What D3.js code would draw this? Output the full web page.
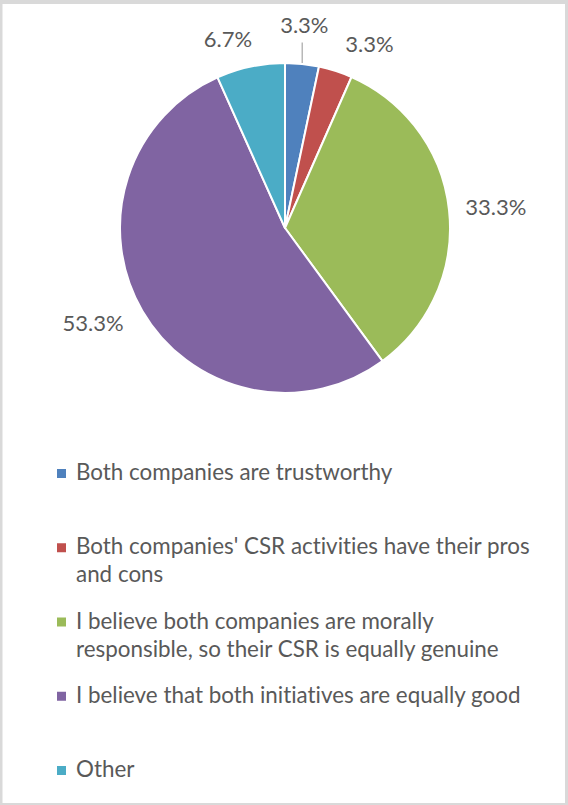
<!DOCTYPE html>
<html>
<head>
<meta charset="utf-8">
<script src="https://cdn.jsdelivr.net/npm/d3@7"></script>
<style>
  html, body { margin: 0; padding: 0; background: #fff; }
  svg { display: block; }
  text { font-variant-ligatures: none; font-feature-settings: "liga" 0, "clig" 0; }
</style>
</head>
<body>
<svg id="chart" width="568" height="805"></svg>
<script>
// Survey responses (share of respondents, %)
const categories = [
  "Both companies are trustworthy",
  "Both companies' CSR activities have their pros and cons",
  "I believe both companies are morally responsible, so their CSR is equally genuine",
  "I believe that both initiatives are equally good",
  "Other"
];
const legendLines = [
  ["Both companies are trustworthy"],
  ["Both companies' CSR activities have their pros", "and cons"],
  ["I believe both companies are morally", "responsible, so their CSR is equally genuine"],
  ["I believe that both initiatives are equally good"],
  ["Other"]
];
const values = [3.3, 3.3, 33.3, 53.3, 6.7];
const colors = ["#4F81BD", "#C0504D", "#9BBB59", "#8064A2", "#4BACC6"];

const W = 568, H = 805;
const font = "Lato, 'Open Sans', 'DejaVu Sans', sans-serif";
const textColor = "#595959";
const legendFontSize = 22.4;

const svg = d3.select("#chart");

// frame
svg.append("rect").attr("x", 0).attr("y", 0).attr("width", W).attr("height", H).attr("fill", "#d9d9d9");
svg.append("rect").attr("x", 2.5).attr("y", 4).attr("width", W - 2.5 - 3).attr("height", H - 4 - 2).attr("fill", "#fff");

// pie
const cx = 285, cy = 228, R = 165;
const pie = d3.pie().sort(null).value(d => d.value);
const arcs = pie(values.map((v, i) => ({ value: v, i })));
const arc = d3.arc().innerRadius(0).outerRadius(R);

const g = svg.append("g").attr("transform", `translate(${cx},${cy})`);
g.selectAll("path.slice")
  .data(arcs)
  .join("path")
  .attr("class", "slice")
  .attr("d", arc)
  .attr("fill", d => colors[d.data.i])
  .attr("stroke", "#fff")
  .attr("stroke-width", 2)
  .attr("stroke-linejoin", "round");

// data labels, placed just outside the rim; small nudges keep the crowded ones apart
const labelGap = 16.6;
const labelNudge = [[-2, -12], [21.5, -1.5], [0, 0], [-8.5, -1], [-14, -2]];
const fmt = v => v.toFixed(1) + "%";

arcs.forEach((d, k) => {
  const a = (d.startAngle + d.endAngle) / 2;
  const s = Math.sin(a), c = Math.cos(a);
  const txt = fmt(d.data.value);
  const t = g.append("text")
    .attr("font-family", font)
    .attr("font-size", 22)
    .attr("fill", textColor)
    .attr("text-anchor", "middle")
    .text(txt);
  const w = t.node().getComputedTextLength();
  const h = 20;
  const px = (R + labelGap) * s, py = -(R + labelGap) * c;
  const bx = px + s * w / 2 + labelNudge[k][0];
  const by = py - c * h / 2 + labelNudge[k][1];
  t.attr("x", bx).attr("y", by + 8);
  // leader line for a label lifted away from its slice
  if (Math.abs(labelNudge[k][1]) > 5) {
    const ex = (R + 1) * s, ey = -(R + 1) * c;
    g.append("line")
      .attr("x1", ex).attr("y1", ey)
      .attr("x2", ex).attr("y2", by + h / 2 + 7)
      .attr("stroke", "#a6a6a6").attr("stroke-width", 1.2);
  }
});

// legend
const legendX = 57, legendTop = 480, legendStep = 74.25, lineH = 28;
const lg = svg.append("g");
legendLines.forEach((lines, i) => {
  const y0 = legendTop + i * legendStep;
  lg.append("rect")
    .attr("x", legendX).attr("y", y0 - 11)
    .attr("width", 9).attr("height", 9)
    .attr("fill", colors[i]);
  const t = lg.append("text")
    .attr("font-family", font)
    .attr("font-size", legendFontSize)
    .attr("fill", textColor);
  lines.forEach((ln, j) => {
    t.append("tspan").attr("x", legendX + 19).attr("y", y0 + j * lineH).text(ln);
  });
});
</script>
</body>
</html>
